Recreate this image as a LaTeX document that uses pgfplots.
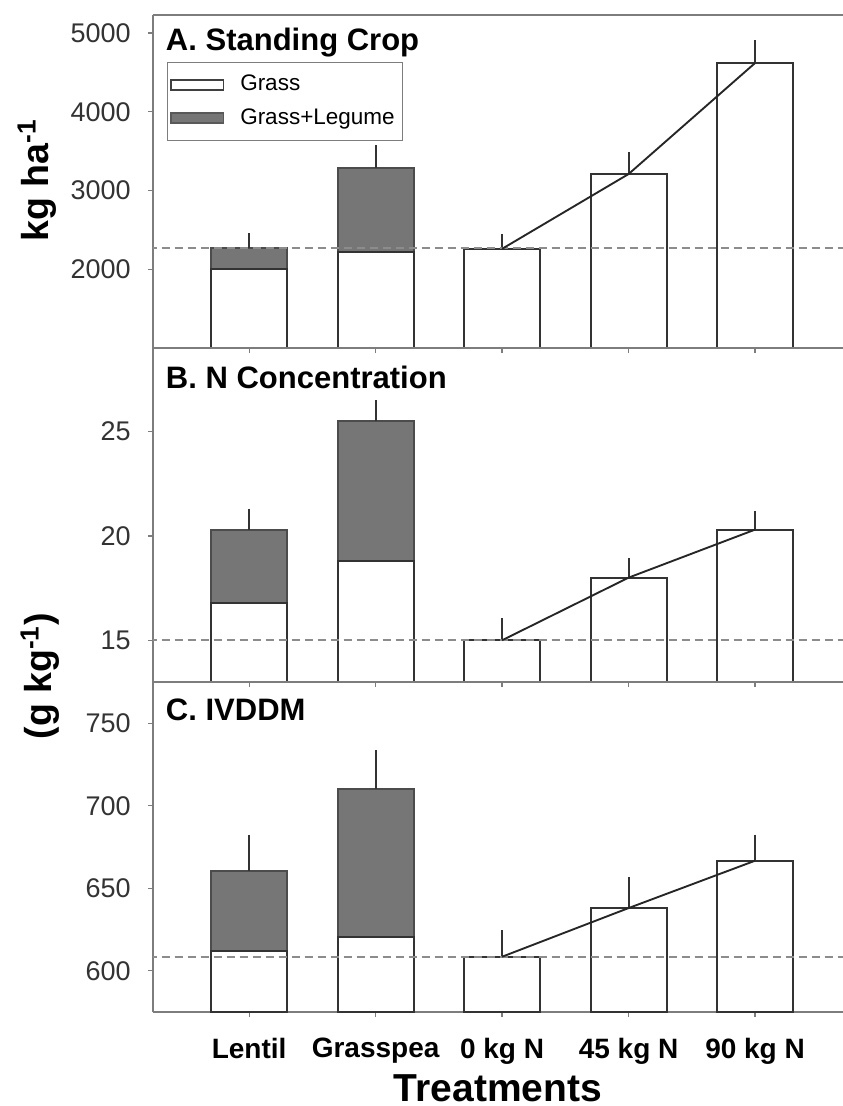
\documentclass[border=0pt]{standalone}
\usepackage{pgfplots}
\pgfplotsset{compat=1.18}
\usepackage{fontspec}
\setmainfont{Liberation Sans}
\definecolor{barfill}{RGB}{118,118,118}
\definecolor{axgray}{RGB}{125,125,125}
\definecolor{dashgray}{RGB}{140,140,140}

\pgfplotsset{
  panel/.style={
    scale only axis, width=276pt,
    xmin=-0.76, xmax=4.695,
    axis x line*=box, axis y line*=left,
    axis line style={axgray, line width=0.6pt},
    xtick={0,1,2,3,4}, xticklabels={},
    xtick pos=left, ytick pos=left,
    tick align=outside, major tick length=2pt,
    tick style={axgray, line width=0.5pt},
    yticklabel style={font=\fontsize{10.8}{12}\selectfont, text=black!80, xshift=-3.4pt},
    /pgf/number format/assume math mode=true,
    /pgf/number format/1000 sep={},
    ybar, bar width=0.6,
  },
  grassbar/.style={fill=white, draw=black!80, line width=0.8pt, bar shift=0pt},
  legbar/.style={fill=barfill, draw=black!70, line width=0.8pt, bar shift=0pt},
  errup/.style={error bars/y dir=plus, error bars/y explicit, error bars/error mark=none,
    error bars/error bar style={line width=0.8pt, black!80}},
  trend/.style={sharp plot, no marks, black!85, line width=0.75pt},
  baseline/.style={sharp plot, no marks, dashgray, line width=0.8pt, dash pattern=on 3.2pt off 2pt},
}

\begin{document}
\begin{tikzpicture}
\useasboundingbox (-61.2pt,6pt) rectangle (276pt,-436.4pt);

% A. Standing crop
\begin{axis}[panel, at={(0pt,0pt)}, anchor=north west, height=133.2pt,
  ymin=1000, ymax=5230, ytick={2000,3000,4000,5000},
  legend style={at={(axis description cs:0.0203,0.859)}, anchor=north west,
    draw=axgray, line width=0.5pt, font=\fontsize{9}{10.5}\selectfont,
    inner xsep=1pt, inner ysep=3pt, row sep=1.5pt, cells={anchor=west}},
]
\addlegendimage{legend image code/.code={\draw[fill=white,draw=black!75,line width=0.6pt] (2.5pt,-2pt) rectangle (23.5pt,2pt); \path (28pt,0pt);}}
\addlegendentry{Grass}
\addlegendimage{legend image code/.code={\draw[fill=barfill,draw=black!65,line width=0.6pt] (2.5pt,-2pt) rectangle (23.5pt,2pt); \path (28pt,0pt);}}
\addlegendentry{Grass+Legume}
\addplot[legbar, errup, forget plot] coordinates {(0,2270) +- (0,190) (1,3290) +- (0,290)};
\addplot[grassbar, forget plot] coordinates {(0,2000) (1,2220)};
\addplot[grassbar, errup, forget plot] coordinates {(2,2260) +- (0,190) (3,3210) +- (0,280) (4,4620) +- (0,290)};
\addplot[baseline, forget plot] coordinates {(-1,2265) (5,2265)};
\addplot[trend, forget plot] coordinates {(2,2260) (3,3210) (4,4620)};
\node[anchor=north west, inner sep=0pt, font=\fontsize{12.4}{14}\selectfont\bfseries]
  at (rel axis cs:0,1) [xshift=5pt, yshift=-5pt] {A. Standing Crop};
\end{axis}

% B. N concentration
\begin{axis}[panel, at={(0pt,-133.2pt)}, anchor=north west, height=133.6pt,
  ymin=13, ymax=29, ytick={15,20,25},
]
\addplot[legbar, errup] coordinates {(0,20.3) +- (0,1.0) (1,25.5) +- (0,1.0)};
\addplot[grassbar] coordinates {(0,16.8) (1,18.8)};
\addplot[grassbar, errup] coordinates {(2,15.0) +- (0,1.05) (3,18.0) +- (0,0.95) (4,20.3) +- (0,0.9)};
\addplot[baseline] coordinates {(-1,15) (5,15)};
\addplot[trend] coordinates {(2,15.0) (3,18.0) (4,20.3)};
\node[anchor=north west, inner sep=0pt, font=\fontsize{12.4}{14}\selectfont\bfseries]
  at (rel axis cs:0,1) [xshift=5pt, yshift=-7pt] {B. N Concentration};
\end{axis}

% C. IVDDM
\begin{axis}[panel, at={(0pt,-266.8pt)}, anchor=north west, height=132pt,
  ymin=575, ymax=775, ytick={600,650,700,750},
  xticklabels={Lentil, Grasspea, 0 kg N, 45 kg N, 90 kg N},
  xticklabel style={font=\fontsize{11.2}{13}\selectfont\bfseries, yshift=-5pt},
  xlabel={Treatments},
  xlabel style={font=\fontsize{15.6}{18}\selectfont\bfseries, yshift=3pt},
]
\addplot[legbar, errup] coordinates {(0,660.7) +- (0,21.8) (1,710.3) +- (0,23.2)};
\addplot[grassbar] coordinates {(0,611.7) (1,620.6)};
\addplot[grassbar, errup] coordinates {(2,608.5) +- (0,16.2) (3,638) +- (0,18.6) (4,666.7) +- (0,15.8)};
\addplot[baseline] coordinates {(-1,608.5) (5,608.5)};
\addplot[trend] coordinates {(2,608.5) (3,638) (4,666.7)};
\node[anchor=north west, inner sep=0pt, font=\fontsize{12.4}{14}\selectfont\bfseries]
  at (rel axis cs:0,1) [xshift=5pt, yshift=-6.5pt] {C. IVDDM};
\end{axis}

\node[rotate=90, font=\fontsize{15}{18}\selectfont\bfseries] at (-46.4pt,-66pt) {kg ha\textsuperscript{-1}};
\node[rotate=90, font=\fontsize{15}{18}\selectfont\bfseries] at (-45.2pt,-264.4pt) {(g kg\textsuperscript{-1})};
\end{tikzpicture}
\end{document}
